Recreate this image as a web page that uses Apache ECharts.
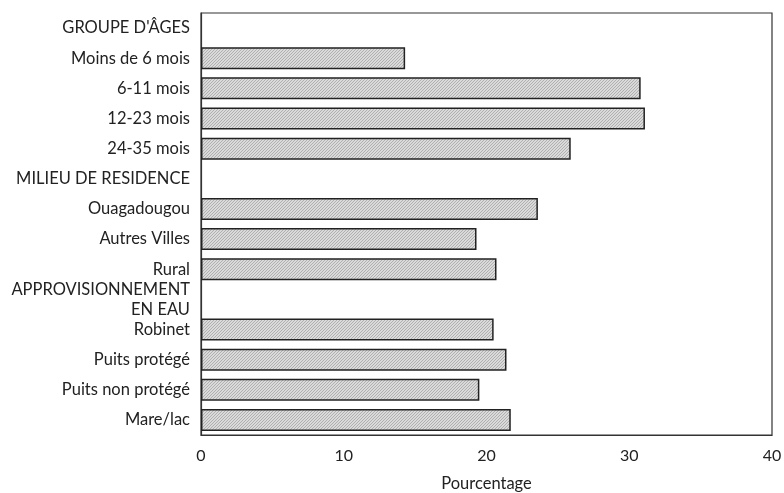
<!DOCTYPE html>
<html><head><meta charset="utf-8">
<script src="https://cdn.jsdelivr.net/npm/echarts@6/dist/echarts.min.js"></script>
<style>html,body{margin:0;padding:0;background:#fff}#c{width:784px;height:493px}</style>
</head><body><div id="c"></div>
<script>
var categories = ["GROUPE D'ÂGES","Moins de 6 mois","6-11 mois","12-23 mois","24-35 mois","MILIEU DE RESIDENCE","Ouagadougou","Autres Villes","Rural","APPROVISIONNEMENT\nEN EAU","Robinet","Puits protégé","Puits non protégé","Mare/lac"];
var values = [null,14.3,30.8,31.1,25.9,null,23.6,19.3,20.7,null,20.5,21.4,19.5,21.7];
var xTicks = [0,10,20,30,40];
var axisName = "Pourcentage";

var pc = document.createElement('canvas');
pc.width = 3; pc.height = 3;
var g = pc.getContext('2d');
g.fillStyle = '#dadada'; g.fillRect(0,0,3,3);
g.fillStyle = '#b0b0b0';
g.fillRect(2,0,1,1); g.fillRect(1,1,1,1); g.fillRect(0,2,1,1);

var chart = echarts.init(document.getElementById('c'), null, {renderer:'canvas'});
var font = 'Lato, "Open Sans", sans-serif';
chart.setOption({
  animation:false,
  grid:{left:201,right:12,top:13,bottom:58,show:true,borderColor:'#333',borderWidth:1.2,containLabel:false,outerBoundsMode:'none'},
  xAxis:{type:'value',min:xTicks[0],max:xTicks[xTicks.length-1],interval:10,
    name:axisName,nameLocation:'middle',nameGap:40,
    nameTextStyle:{fontFamily:font,fontSize:16.5,color:'#222'},
    axisLine:{show:true,lineStyle:{color:'#333',width:1.2}},axisTick:{show:false},
    splitLine:{show:false},
    axisLabel:{fontFamily:font,fontSize:16,color:'#222',margin:13}},
  yAxis:{type:'category',inverse:true,data:categories,
    axisLine:{show:true,lineStyle:{color:'#333',width:1.2}},axisTick:{show:false},
    axisLabel:{fontFamily:font,fontSize:16.5,color:'#222',margin:11,lineHeight:20,align:'right'}},
  series:[{type:'bar',data:values,barWidth:22,
    itemStyle:{color:{image:pc,repeat:'repeat'},borderColor:'#222',borderWidth:1.5}}]
});
</script></body></html>
